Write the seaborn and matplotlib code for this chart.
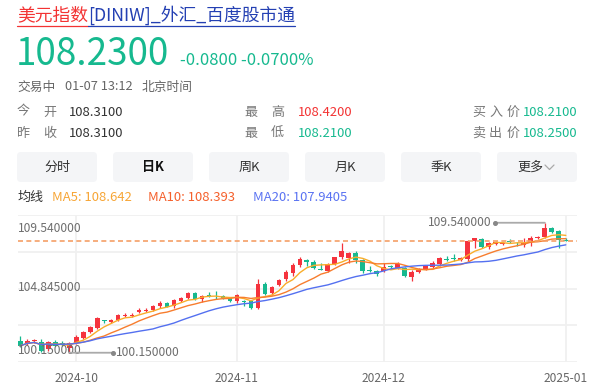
import numpy as np
import pandas as pd
import matplotlib
matplotlib.use("Agg")
import matplotlib.pyplot as plt
import seaborn as sns
from matplotlib.patches import FancyBboxPatch
from matplotlib.lines import Line2D
from matplotlib.transforms import IdentityTransform, offset_copy

# ---------------- data ----------------
opens = [100.99, 100.87, 100.98, 100.94, 100.40, 100.94, 100.88, 100.48, 100.85, 101.23,
         101.66, 101.93, 102.50, 102.39, 102.51, 102.80, 102.82, 103.10, 103.17, 103.23,
         103.52, 103.76, 103.52, 103.90, 104.10, 104.46, 104.03, 104.32, 104.20, 104.25,
         104.10, 103.90, 103.90, 103.90, 103.36, 105.09, 104.44, 105.04, 105.45, 105.88,
         106.48, 106.85, 106.68, 106.20, 106.07, 106.56, 107.04, 106.97, 107.33, 106.85,
         106.10, 106.05, 106.07, 106.40, 106.25, 106.29, 105.64, 105.96, 106.20, 106.36,
         106.53, 106.92, 106.99, 106.85, 106.92, 108.22, 108.36, 107.76, 108.00, 108.00,
         108.20, 108.02, 107.93, 108.17, 108.46, 108.53, 109.18, 108.94, 108.31]
highs = [101.35, 101.12, 101.16, 101.14, 101.00, 101.05, 100.98, 100.95, 101.40, 101.75,
         102.10, 102.75, 102.55, 102.60, 102.95, 103.04, 103.00, 103.40, 103.35, 103.60,
         103.88, 103.85, 104.05, 104.18, 104.55, 104.55, 104.35, 104.55, 104.63, 104.30,
         104.18, 104.40, 103.95, 103.95, 105.45, 105.23, 105.00, 105.50, 106.10, 106.61,
         107.08, 106.90, 106.85, 106.61, 106.61, 107.10, 108.10, 107.45, 107.52, 106.90,
         106.41, 106.10, 106.65, 106.50, 106.72, 106.35, 106.10, 106.25, 106.50, 106.77,
         107.05, 107.13, 107.25, 107.05, 108.30, 108.45, 108.45, 108.15, 108.25, 108.15,
         108.35, 108.15, 108.46, 108.55, 108.58, 109.54, 109.25, 109.05, 108.42]
lows = [100.56, 100.70, 100.83, 100.22, 100.30, 100.60, 100.65, 100.15, 100.75, 101.15,
        101.60, 101.85, 102.30, 102.30, 102.45, 102.70, 102.75, 103.00, 103.10, 103.15,
        103.40, 103.42, 103.40, 103.85, 104.02, 103.98, 103.85, 104.15, 104.00, 104.05,
        103.82, 103.72, 103.55, 103.30, 103.30, 104.30, 104.35, 104.95, 105.35, 105.71,
        106.36, 106.40, 106.17, 106.10, 105.96, 106.50, 106.95, 106.61, 106.61, 105.88,
        106.00, 105.69, 105.95, 106.25, 106.20, 105.65, 105.35, 105.90, 106.10, 106.30,
        106.45, 106.75, 106.75, 106.80, 106.80, 107.70, 107.70, 107.65, 107.95, 107.95,
        108.05, 107.85, 107.80, 107.88, 108.40, 108.45, 108.80, 107.73, 108.21]
closes = [100.65, 100.99, 101.04, 100.29, 100.90, 100.65, 100.80, 100.85, 101.28, 101.66,
          102.03, 102.65, 102.45, 102.51, 102.87, 102.88, 102.90, 103.25, 103.24, 103.52,
          103.76, 103.47, 103.96, 104.10, 104.46, 104.03, 104.27, 104.28, 104.16, 104.10,
          103.88, 104.32, 103.86, 103.36, 105.09, 104.37, 104.92, 105.40, 106.00, 106.48,
          106.90, 106.68, 106.25, 106.17, 106.56, 107.04, 107.52, 107.33, 106.85, 106.07,
          106.07, 105.83, 106.36, 106.36, 106.54, 105.71, 105.96, 106.18, 106.41, 106.61,
          106.97, 106.89, 106.95, 106.97, 108.22, 108.41, 107.76, 108.05, 108.17, 108.10,
          108.15, 107.98, 108.06, 108.46, 108.53, 109.18, 108.89, 108.31, 108.23]
tick_pos = [8, 31, 52, 78]
tick_labels = ["2024-10", "2024-11", "2024-12", "2025-01"]
ma_windows = [5, 10, 20]
ma_legend = ["MA5: 108.642", "MA10: 108.393", "MA20: 107.9405"]

title_red = "美元指数"
title_blue = "[DINIW]_外汇_百度股市通"
price_text = "108.2300"
change_text = "-0.0800 -0.0700%"
status_texts = ["交易中", "01-07 13:12", "北京时间"]
info_labels = [["今", "开"], ["昨", "收"], ["最", "高"], ["最", "低"], ["买", "入", "价"], ["卖", "出", "价"]]
info_values = ["108.3100", "108.3100", "108.4200", "108.2100", "108.2100", "108.2500"]
buttons = ["分时", "日K", "周K", "月K", "季K", "更多"]

# ---------------- style ----------------
sns.set_theme(style="white")
CJK = ["Noto Sans CJK SC", "DejaVu Sans"]
plt.rcParams["font.family"] = CJK

W, H = 591, 389
RED = "#f5333d"
GREEN = "#16b98f"
GRAY = "#666666"
DARK = "#333333"

fig = plt.figure(figsize=(W / 100, H / 100), dpi=100)
fig.patch.set_facecolor("white")


def fx(x):
    return x / W


def fy(y):
    return 1 - y / H


# ---------------- header ----------------
t1 = fig.text(fx(17), fy(15), title_red, color="#f33333", fontsize=12.8, va="center")
fig.canvas.draw()
r = fig.canvas.get_renderer()
bb1 = t1.get_window_extent(r)
t2 = fig.text(bb1.x1 / W, fy(15), title_blue, color="#2440b3", fontsize=12.8, va="center")
bb2 = t2.get_window_extent(r)
fig.add_artist(Line2D([bb1.x0, bb1.x1], [H - 25.5, H - 25.5], transform=IdentityTransform(),
                      color="#f33333", lw=0.9))
fig.add_artist(Line2D([bb2.x0, bb2.x1], [H - 25.5, H - 25.5], transform=IdentityTransform(),
                      color="#2440b3", lw=0.9))

fig.text(fx(16), fy(65), price_text, color=GREEN, fontsize=26.5, va="baseline")
fig.text(fx(180), fy(65), change_text, color=GREEN, fontsize=12, va="baseline")

for s, x in zip(status_texts, [17, 65, 142]):
    fig.text(fx(x), fy(87), s, color=GRAY, fontsize=9.2, va="center")

label_x = [[17, 43], [17, 43], [244, 271], [244, 271], [472, 489, 507], [472, 489, 507]]
value_x = [69, 69, 298, 298, 523, 523]
row_y = [112.3, 133.3, 112.3, 133.3, 112.3, 133.3]
value_colors = [DARK, DARK, "#f33333", GREEN, GREEN, GREEN]
for labs, lxs, v, vx, y, vc in zip(info_labels, label_x, info_values, value_x, row_y, value_colors):
    for ch, lx in zip(labs, lxs):
        fig.text(fx(lx), fy(y), ch, color="#777777", fontsize=9.4, va="center")
    fig.text(fx(vx), fy(y), v, color=vc, fontsize=9.4, va="center")

# buttons
btn_x = [17, 113, 209, 305, 401, 497]
for name, bx in zip(buttons, btn_x):
    p = FancyBboxPatch((bx, H - 182), 80, 30, boxstyle="round,pad=0,rounding_size=4",
                       transform=IdentityTransform(), facecolor="#f4f5f7", edgecolor="none")
    fig.add_artist(p)
    if name == "更多":
        fig.text(fx(530), fy(167), name, color=DARK, fontsize=9.4, va="center", ha="center")
        fig.add_artist(Line2D([545, 549.5, 554], [H - 165, H - 169.5, H - 165],
                              transform=IdentityTransform(), color="#aaaaaa", lw=0.9))
    else:
        bold = name == "日K"
        fig.text(fx(bx + 40), fy(167), name, color="#111111" if bold else DARK, fontsize=9.4,
                 va="center", ha="center", fontweight="bold" if bold else "normal")

# MA legend row
fig.text(fx(17), fy(197.3), "均线", color=DARK, fontsize=9.4, va="center")
ma_colors = ["#f7a535", "#f5602c", "#5a73f2"]
for s, x, c in zip(ma_legend, [52, 148, 253], ma_colors):
    fig.text(fx(x), fy(197.3), s, color=c, fontsize=9.4, va="center")

# ---------------- chart ----------------
ax = fig.add_axes([fx(18), fy(362), 559 / W, 147 / H])
ax.set_facecolor("white")
df = pd.DataFrame({"open": opens, "high": highs, "low": lows, "close": closes})
df["idx"] = np.arange(len(df))

ylo, yhi = 99.48, 110.10
ax.set_ylim(ylo, yhi)
ax.set_xlim(-0.3, 79.6)
ax.set_yticks(np.linspace(ylo, yhi, 5))
ax.set_yticklabels([])
ax.set_xticks(tick_pos)
ax.set_xticklabels(tick_labels, color=GRAY, fontsize=8.6)
ax.tick_params(axis="both", length=0)
ax.tick_params(axis="x", pad=7)
ax.grid(True, color="#f0f0f0", lw=1.3, zorder=0)
for sp in ax.spines.values():
    sp.set_visible(False)

up = df["close"] >= df["open"]
cols = np.where(up, RED, GREEN)
body = (df["close"] - df["open"]).abs()
h = np.maximum(body, 0.06)
bottom = np.minimum(df["open"], df["close"]) - (h - body) / 2
ax.vlines(df["idx"], df["low"], df["high"], colors=cols, lw=0.9, zorder=2)
ax.bar(df["idx"], h, bottom=bottom, width=0.7, color=cols, zorder=2, linewidth=0)

# moving averages via seaborn
ma_line_colors = {"MA5": "#f9ad2a", "MA10": "#f77d2e", "MA20": "#5470f0"}
long = []
for w in ma_windows:
    s = df["close"].rolling(w, min_periods=1).mean()
    long.append(pd.DataFrame({"idx": df["idx"], "val": s, "ma": f"MA{w}"}))
long = pd.concat(long, ignore_index=True)
sns.lineplot(data=long, x="idx", y="val", hue="ma", palette=ma_line_colors, lw=1.0,
             legend=False, ax=ax, zorder=3)
ax.set_xlabel("")
ax.set_ylabel("")

# current price dashed line
ax.axhline(df["close"].iloc[-1], color="#f5a067", lw=1.2, ls=(0, (3, 2)), zorder=4)

# max / min / mid labels
hi = df["high"].max()
lo = df["low"].min()
mid = (hi + lo) / 2
imax = int(df["high"].idxmax())
imin = int(df["low"].idxmin())
lab_c = "#6e6e6e"
ax.annotate(f"{hi:.6f}", xy=(0, hi), xycoords=("axes fraction", "data"), xytext=(0, -5.3),
            textcoords="offset pixels", color=lab_c, fontsize=8.7, va="center", ha="left", zorder=5)
ax.annotate(f"{mid:.6f}", xy=(0, mid), xycoords=("axes fraction", "data"), xytext=(0, 0),
            textcoords="offset pixels", color=lab_c, fontsize=8.7, va="center", ha="left", zorder=5)
ax.annotate(f"{lo:.6f}", xy=(0, lo), xycoords=("axes fraction", "data"), xytext=(0, 2.7),
            textcoords="offset pixels", color=lab_c, fontsize=8.7, va="center", ha="left", zorder=5)

line_c = "#aaaaaa"
# max annotation
ax.annotate("", xy=(imax, hi), xytext=(-50, 0), textcoords="offset pixels",
            arrowprops=dict(arrowstyle="-", color=line_c, lw=1.3, shrinkA=0, shrinkB=0), zorder=5)
tr_max = offset_copy(ax.transData, fig=fig, x=-50, y=0, units="dots")
ax.plot([imax], [hi], "o", ms=2.6, color="#888888", transform=tr_max, zorder=5)
ax.annotate(f"{hi:.6f}", xy=(imax, hi), xytext=(-53, 0), textcoords="offset pixels", color=lab_c,
            fontsize=8.7, ha="right", va="center", zorder=5)
# min annotation
ax.annotate("", xy=(imin, lo), xytext=(44, 0), textcoords="offset pixels",
            arrowprops=dict(arrowstyle="-", color=line_c, lw=1.3, shrinkA=0, shrinkB=0), zorder=5)
tr_min = offset_copy(ax.transData, fig=fig, x=44, y=0, units="dots")
ax.plot([imin], [lo], "o", ms=2.6, color="#888888", transform=tr_min, zorder=5)
ax.annotate(f"{lo:.6f}", xy=(imin, lo), xytext=(47, 0), textcoords="offset pixels", color=lab_c,
            fontsize=8.7, ha="left", va="center", zorder=5)

fig.savefig("out.png", dpi=100)
